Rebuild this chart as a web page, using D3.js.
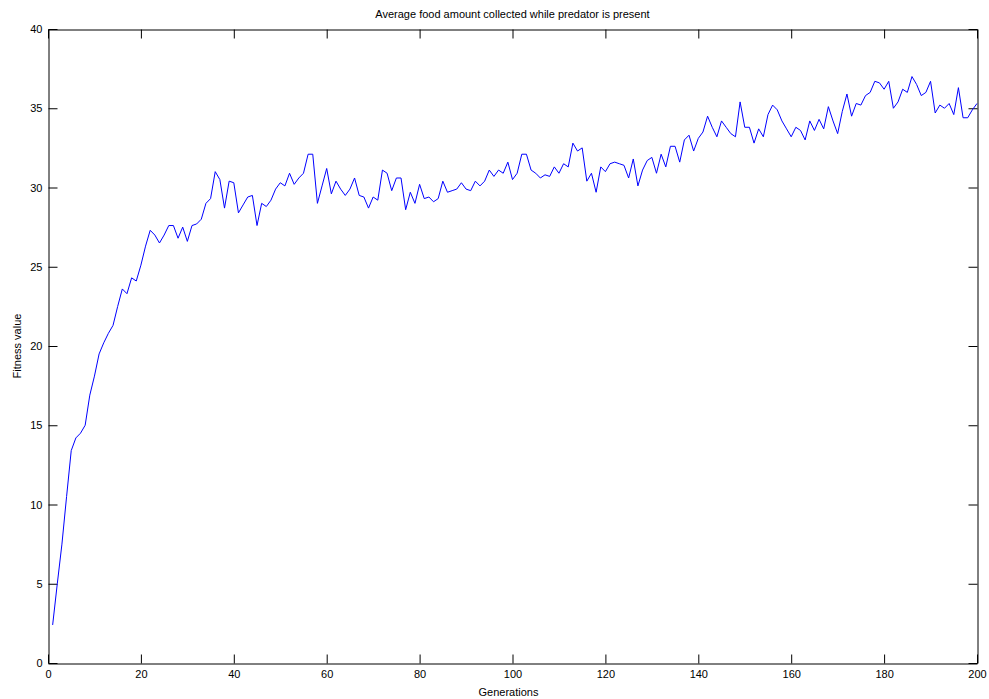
<!DOCTYPE html>
<html>
<head>
<meta charset="utf-8">
<script src="https://cdn.jsdelivr.net/npm/d3@7"></script>
<style>
  html, body { margin: 0; padding: 0; background: #fff; }
  svg { display: block; }
  text { font-family: "Liberation Sans", Arial, sans-serif; }
</style>
</head>
<body>
<svg id="chart" width="989" height="699"></svg>
<script>
const title = "Average food amount collected while predator is present";
const xLabel = "Generations";
const yLabel = "Fitness value";
const xTicks = [0, 20, 40, 60, 80, 100, 120, 140, 160, 180, 200];
const yTicks = [0, 5, 10, 15, 20, 25, 30, 35, 40];
const fitness = [
  2.4, 5.0, 7.5, 10.5, 13.4, 14.2, 14.5, 15.0, 16.9, 18.1,
  19.5, 20.2, 20.8, 21.3, 22.5, 23.6, 23.3, 24.3, 24.1, 25.1,
  26.3, 27.3, 27.0, 26.5, 27.0, 27.6, 27.6, 26.8, 27.5, 26.6,
  27.6, 27.7, 28.0, 29.0, 29.3, 31.0, 30.5, 28.7, 30.4, 30.3,
  28.4, 28.9, 29.4, 29.5, 27.6, 29.0, 28.8, 29.2, 29.9, 30.3,
  30.1, 30.9, 30.2, 30.6, 30.9, 32.1, 32.1, 29.0, 30.1, 31.2,
  29.6, 30.4, 29.9, 29.5, 29.9, 30.6, 29.5, 29.4, 28.7, 29.4,
  29.2, 31.1, 30.9, 29.8, 30.6, 30.6, 28.6, 29.7, 29.0, 30.2,
  29.3, 29.4, 29.1, 29.3, 30.4, 29.7, 29.8, 29.9, 30.3, 29.9,
  29.8, 30.4, 30.1, 30.4, 31.1, 30.7, 31.1, 30.9, 31.6, 30.5,
  30.9, 32.1, 32.1, 31.1, 30.9, 30.6, 30.8, 30.7, 31.3, 30.9,
  31.5, 31.3, 32.8, 32.3, 32.5, 30.4, 30.9, 29.7, 31.3, 31.0,
  31.5, 31.6, 31.5, 31.4, 30.6, 31.8, 30.1, 31.1, 31.7, 31.9,
  30.9, 32.1, 31.3, 32.6, 32.6, 31.6, 33.0, 33.3, 32.3, 33.1,
  33.5, 34.5, 33.8, 33.2, 34.2, 33.8, 33.4, 33.2, 35.4, 33.8,
  33.8, 32.8, 33.7, 33.2, 34.6, 35.2, 34.9, 34.2, 33.7, 33.2,
  33.8, 33.6, 33.0, 34.2, 33.6, 34.3, 33.7, 35.1, 34.2, 33.4,
  34.8, 35.9, 34.5, 35.3, 35.2, 35.8, 36.0, 36.7, 36.6, 36.2,
  36.7, 35.0, 35.4, 36.2, 36.0, 37.0, 36.5, 35.8, 36.0, 36.7,
  34.7, 35.2, 35.0, 35.3, 34.6, 36.3, 34.4, 34.4, 34.9, 35.3
];
const generations = fitness.map((_, i) => i + 1);

const svg = d3.select("#chart");
const mLeft = 48, mRight = 977, mTop = 29, mBottom = 663;
const tickLen = 9;

const x = d3.scaleLinear().domain([0, 200]).range([mLeft, mRight]);
const y = d3.scaleLinear().domain([0, 40]).range([mBottom, mTop]);

function styleAxis(g) {
  g.selectAll("path").attr("stroke", "#000").attr("stroke-width", 1);
  g.selectAll("line").attr("stroke", "#000").attr("stroke-width", 1);
  g.selectAll("text").attr("fill", "#000").style("font-size", "11px")
    .style("font-family", '"Liberation Sans", Arial, sans-serif');
}

// bottom
svg.append("g").attr("transform", `translate(0,${mBottom + 0.5})`)
  .call(d3.axisBottom(x).tickValues(xTicks).tickSize(-tickLen).tickSizeOuter(0).tickPadding(6).tickFormat(d3.format("d")))
  .call(styleAxis)
  .call(g => g.selectAll("text").attr("dy", "0.71em").attr("y", 7));
// top
svg.append("g").attr("transform", `translate(0,${mTop + 0.5})`)
  .call(d3.axisTop(x).tickValues(xTicks).tickSize(-tickLen).tickSizeOuter(0).tickFormat(""))
  .call(styleAxis);
// left
svg.append("g").attr("transform", `translate(${mLeft + 0.5},0)`)
  .call(d3.axisLeft(y).tickValues(yTicks).tickSize(-tickLen).tickSizeOuter(0).tickPadding(6).tickFormat(d3.format("d")))
  .call(styleAxis);
// right
svg.append("g").attr("transform", `translate(${mRight + 0.5},0)`)
  .call(d3.axisRight(y).tickValues(yTicks).tickSize(-tickLen).tickSizeOuter(0).tickFormat(""))
  .call(styleAxis);

// data line
const line = d3.line().x((d, i) => x(generations[i])).y(d => y(d));
svg.append("path")
  .datum(fitness)
  .attr("fill", "none")
  .attr("stroke", "#0000ff")
  .attr("stroke-width", 1)
  .attr("d", line);

// title and labels
svg.append("text").attr("x", (mLeft + mRight) / 2).attr("y", 18)
  .attr("text-anchor", "middle").style("font-size", "11px").attr("fill", "#000")
  .text(title);
svg.append("text").attr("x", (mLeft + mRight) / 2 - 4).attr("y", 696)
  .attr("text-anchor", "middle").style("font-size", "11px").attr("fill", "#000")
  .text(xLabel);
svg.append("text")
  .attr("transform", `translate(21,${(mTop + mBottom) / 2}) rotate(-90)`)
  .attr("text-anchor", "middle").style("font-size", "11px").attr("fill", "#000")
  .text(yLabel);
</script>
</body>
</html>
